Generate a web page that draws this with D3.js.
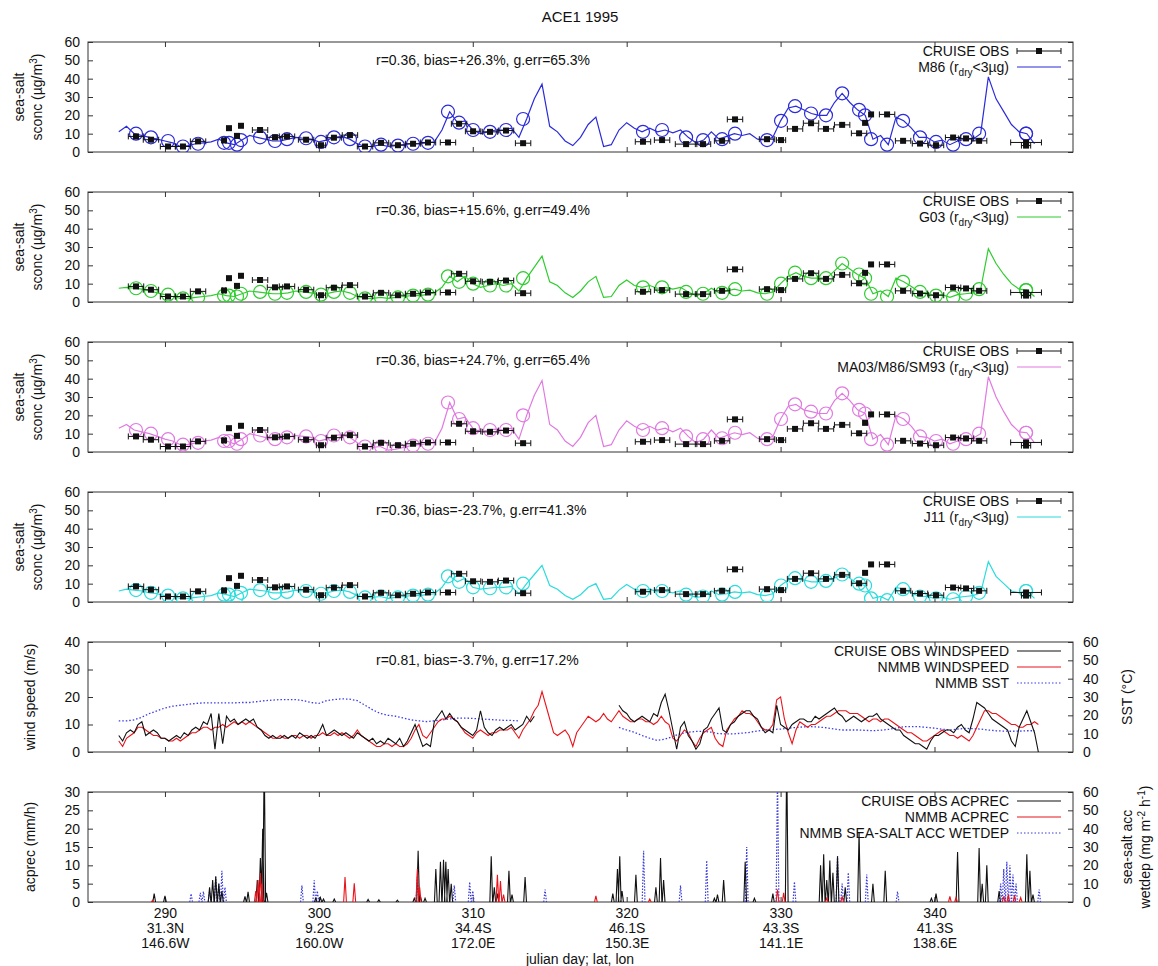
<!DOCTYPE html>
<html>
<head>
<meta charset="utf-8">
<title>ACE1 1995</title>
<script src="https://cdn.jsdelivr.net/npm/d3@7/dist/d3.min.js"></script>
<style>
  body { margin: 0; background: #fff; }
  svg text { font-family: "Liberation Sans", Arial, Helvetica, sans-serif; fill: #111; }
</style>
</head>
<body>
<svg id="chart" width="1158" height="966"></svg>
<script>
// ---------------- data ----------------
const dayDomain = [285, 349];
const dayTicks = [290, 300, 310, 320, 330, 340];
const tickLat = ["31.3N", "9.2S", "34.4S", "46.1S", "43.3S", "41.3S"];
const tickLon = ["146.6W", "160.0W", "172.0E", "150.3E", "141.1E", "138.6E"];

// cruise observations of sea-salt concentration (µg/m3), sampling mid-time and half duration (days)
const obsDay = [288.12,289.09,290.20,291.17,292.15,293.84,294.16,294.68,294.94,296.18,
  297.15,297.93,299.17,300.14,300.98,302.02,303.00,304.04,305.14,306.12,
  307.09,308.39,309.11,310.02,311.12,312.16,313.27,321.06,322.30,323.86,
  324.96,326.20,327.04,329.12,330.03,330.94,331.98,332.95,334.00,335.10,
  335.49,335.88,336.92,337.96,339.06,340.10,341.21,342.05,342.90,345.95,345.95];
const obsSconc = [8.5,6.7,3.0,3.0,5.8,6.3,13.0,8.8,14.3,12.0,
  8.0,8.5,6.7,3.7,7.8,9.2,3.0,5.0,3.7,4.5,
  5.2,5.2,15.4,11.3,11.0,11.7,4.8,5.6,6.5,4.3,
  4.3,6.1,17.8,7.0,6.5,12.6,15.7,12.6,14.8,10.2,
  15.9,20.5,20.5,6.1,4.6,3.7,7.9,7.4,6.1,5.2,3.5];
const obsHalf = [0.5,0.5,0.5,0.5,0.5,0.1,0,0,0,0.5,
  0.5,0.5,0.5,0.3,0.5,0.5,0.5,0.5,0.5,0.5,
  0.5,0.5,0.5,0.5,0.5,0.5,0.5,0.5,0.5,0.7,
  0.5,0.5,0.5,0.5,0.3,0.5,0.5,0.5,0.5,0.5,
  0,0,0.5,0.5,0.5,0.5,0.5,0.5,0.5,1.0,0.3];

// NMMB sea-salt surface concentration along the ship track, half-day samples from day 287.0
const modelStart = 287.0, modelStep = 0.5;
const sconcM86 = [11,14,10,9,8,7,6,5,3,3.5,
  4.5,5,5.5,7,5,4,6.5,9,8,7,
  6,6,7,8,7.5,7,5.5,6.5,8,8.5,
  7,4.5,3,3,4,3,3.5,4,4.5,4.5,
  5,5.5,12,22,16,17,12,10,11,12,
  12,13,8,18,29,37,14,11,6,3.5,
  8,15,19,3,4,12,16,13,11,13,
  11,12,10.5,12,8,5,6.5,11,7,8.5,
  10,9,10,7,6.5,8,17,24,25,23,
  21,20,20,27,32,27,23,20,7,9,
  4,19,17,13,8,8,5.5,6.5,4,6,
  7,7,10,41,29,22,15,11,10,4.5];
const sconcG03 = [7.5,8,7.5,7,6,5,4,3,2,2,
  2.5,3,3.5,4.5,3.5,3,4.5,6,5.5,5,
  4.5,4.5,5,6,5.5,5,4,4.5,5.5,6,
  5,3,2,2,2.5,2,2.5,3,3.5,3.5,
  4,5,8,14,11,14,10,8,9,10,
  9,10,6,13,19,25,11,9,5,2.5,
  6,11,14,2.5,3,9,12,9,8,9,
  7.5,8,7,8,5.5,3.5,4.5,7.5,5,6,
  7,6,6.5,5,4.5,5.5,10,14,16,14,
  13,13,13,17,21,18,15,13,4.5,6,
  3,13,11,8.5,5.5,5,3.5,4,2.5,4,
  4.5,5,7,29,21,15,10,7,6.5,3];
const sconcMA03 = [13,15,12,11,10,8.5,7,6,4,4,
  5,6,6.5,8,6,4.5,7,10,9,8,
  7,7,8,9,8.5,8,6,7,9,9.5,
  8,5,3,2.5,3,1,1.5,2.5,3.5,4,
  4.5,5,13,27,18,19,13,11,12,12.5,
  12,13,7,20,31,39,15,12,6,3,
  8,16,20,3,4,12,17,14,12,14,
  12,13,11,13,8.5,5,7,12,7.5,9,
  10.5,9.5,10.5,7.5,7,8.5,18,25,26,23,
  22,21,21,28,32,28,23,21,7,9.5,
  4,20,18,14,8.5,8,6,7,4.5,6,
  7,7.5,10,41,30,22,15,11,10.5,5];
const sconcJ11 = [6,7,6.5,6,5,4.5,3.5,3,2,2,
  2.5,3,3.5,5,4,3,5,7,6.5,6,
  5,5,5.5,6.5,6,5.5,4.5,5,6,6.5,
  5.5,3.5,2.5,2.5,3,2,2.5,3,3.5,3.5,
  4,4.5,8,14,11,13,8,7,7.5,8,
  8,8.5,4.5,10,15,20,9,7,3.5,1.5,
  4,8,10,1.5,2,6.5,9.5,7,6,7,
  5.5,6,5,6,4,2.5,3,6,4,4.5,
  5.5,5,5.5,4,3.5,4.5,9,12,13,12,
  11,11,11.5,13,15,13,10,9,2,3,
  1,8,7,5,3,3,2,2.5,1.5,2.5,
  3,3.5,5,22,14,10,6,5,6,2];

const statSconc = ["r=0.36, bias=+26.3%, g.err=65.3%", "r=0.36, bias=+15.6%, g.err=49.4%",
  "r=0.36, bias=+24.7%, g.err=65.4%", "r=0.36, bias=-23.7%, g.err=41.3%"];
const statWind = "r=0.81, bias=-3.7%, g.err=17.2%";

// wind speed (m/s), quarter-day samples from day 287.0; null where the ship record is missing
const windStart = 287.0, windStep = 0.25;
const windObs = [6,4,7,8, 7,10,11,6, 7,8,7,5, 5,4,5,6, 5,7,6,8, 9,8,11,10, 14,1,14,3,
  13,11,12,10, 11,12,11,12, 9,8,6,5, 6,5,5,6, 5,6,5,7, 6,5,6,5, 7,10,6,7,
  8,7,6,7, 6,5,7,6, 5,4,5,3, 4,3,5,4, 3,5,2,4, 7,10,6,2, 3,2,11,13,
  15,12,14,12, 11,9,8,7, 6,8,15,9, 7,6,8,9, 8,9,10,8, 9,10,13,11, 13,
  null,null,null,null,null,null,null,null,null,null,null,null,null,null,null,null,null,null,null,null,null,
  17,15, 14,12,11,12, 13,12,11,14, 13,18,21,15, 8,1,9,11, 6,4,1,3, 8,9,12,14,
  16,8,7,10, 11,13,14,15, 15,13,12,9, 7,8,7,17, 10,9,8,10, 11,12,12,11,
  11,13,12,13, 14,15,16,14, 13,11,12,13, 12,11,12,13, 13,14,12,11, 10,9,8,8,
  6,5,4,3, 3,2,1,4, 6,6,7,8, 8,7,9,10, 8,7,12,18, 17,16,14,12, 11,10,9,8,
  4,2,9,12, 15,11,7,0];
const windModel = [4,2,5,6, 7,9,9,8, 7,6,6,5, 5,4,4,5, 4,5,6,7, 7,8,9,9, 8,9,9,10,
  9,10,11,10, 11,10,11,10, 9,8,7,6, 5,5,6,5, 5,6,6,5, 6,6,5,6, 6,7,6,6,
  7,6,7,6, 5,6,8,6, 5,4,3,2, 2,3,3,2, 3,2,2,3, 5,8,10,6, 5,7,9,11,
  12,12,13,12, 11,9,7,6, 5,7,8,7, 6,7,7,8, 8,8,9,7, 5,8,10,12, 15,17,22,17,
  12,7,6,7, 8,6,2,7, 9,11,13,12, 11,12,14,12, 11,13,15,13, 12,11,11,12,
  12,11,11,10, 11,13,11,10, 5,4,6,8, 7,4,2,5, 7,8,9,5, 3,2,8,10,
  12,13,15,14, 14,13,11,9, 8,8,10,19, 20,12,7,3, 8,11,10,9, 10,10,11,12,
  13,13,14,15, 15,15,14,14, 14,13,12,11, 12,12,11,12, 12,11,10,9, 8,7,7,6,
  5,4,4,5, 6,7,8,7, 6,6,5,6, 5,4,6,9, 12,15,15,14, 14,13,12,11, 10,10,9,9,
  10,10,11,10];

// NMMB sea surface temperature (°C), half-day samples from day 287.0
const sstStart = 287.0, sstStep = 0.5;
const sstModel = [17,17,17.5,19,21,22.5,24,25,25.5,26,
  26.5,26.8,26.8,26.8,26.8,26.8,27,27,27.5,28,
  28.3,28.6,28.6,28.6,28,27,26.5,28,28.6,29,
  28.8,28,25.5,23,21,20,19.5,18.5,17.5,17,
  16.6,17,17.5,18,18.5,18.5,18.3,18,17.8,17.5,
  17.3,17.2,17,
  null,null,null,null,null,null,null,null,null,null,null,null,
  13.4,
  12,10.7,9,7.5,6.3,7,8.5,10,10.8,11.2,
  11.3,10.8,10,9.9,9.9,10.3,10.7,11.5,12,12.3,
  12.5,13,13.4,13.7,13.8,13.6,13.2,12.5,12,12,
  12,11.8,11.6,11.9,12.3,13,13.8,13.8,13.8,13.4,
  13,12.4,12,12.5,12.9,12.7,12.5,12,11.6,11.4,
  11.3,11.4,11.6,11.6];

// accumulated precipitation events [day, mm/h]
const rainObs = [[289.3,2.3],[290.0,1.7],[292.9,4],[293.1,6],[293.3,7],[293.5,5],[293.7,3],[295.2,1.5],[295.4,2.8],
  [296.0,6],[296.2,12],[296.35,20],[296.45,40],[296.6,2.5],[299.8,1],[300.1,1.2],[300.3,0.8],[301.0,0.8],
  [303.2,0.7],[303.9,0.6],[305.1,0.5],[306.2,1],[306.45,14],[306.6,1.5],[306.9,1],[307.6,9],[307.9,11],
  [308.1,11.5],[308.25,11],[308.4,9],[308.6,5],[311.2,12.5],[311.4,4],[311.6,2.3],[312.35,8.5],[312.55,2],
  [313.4,6.8],[319.1,2.3],[319.4,9],[319.55,12.5],[319.7,3],[320.6,7.4],[321.9,4],[322.2,12],[322.4,6],
  [325.7,1],[325.9,2],[326.3,6],[327.7,11],[328.3,1],[329.5,2.3],[330.4,40],[332.6,10],[332.8,13],
  [333.0,6],[333.2,11.3],[333.4,8],[333.7,12.5],[334.2,4],[335.1,19],[336.0,5],[336.8,8.5],[339.8,1],
  [340.1,2.3],[341.5,13.6],[342.9,14.7],[343.1,5],[343.4,10],[344.2,3],[346.0,13],[346.2,8.5],[346.4,2]];
const rainModel = [[289.2,0.5],[295.9,3],[296.05,6],[296.2,7.9],[296.3,5],[301.7,6.8],[302.3,5.1],[306.4,9],
  [306.55,4],[311.6,7.4],[311.8,5.7],[312.0,2],[318.0,1.7],[321.5,0.8],[329.8,3.4],[330.2,2.5],[333.0,1],
  [334.0,1.5],[341.0,1.5],[341.4,1.2],[344.5,1.5],[344.8,2],[345.2,1.8],[345.6,1.2]];
// sea-salt accumulated wet deposition events [day, mg m-2 h-1]
const wetdepModel = [[291.7,4.5],[292.3,5],[292.5,5.7],[292.9,5.7],[293.3,13.6],[293.5,10],[293.7,17],[293.9,8],
  [298.9,9],[299.7,11.8],[299.9,6],[306.4,13.6],[308.8,9],[309.8,10.9],[310.0,6],[314.7,6.8],[321.1,28],
  [323.5,9],[325.2,22.6],[327.8,30],[329.8,70],[330.9,11],[333.7,25],[334.0,10],[334.4,16],[335.6,15],
  [337.6,5.7],[344.3,10],[344.5,18],[344.7,22],[344.9,20],[345.1,15],[345.3,10],[346.8,6.8]];

// ---------------- layout ----------------
const FONT = '"Liberation Sans", Arial, Helvetica, sans-serif';
const FS = 14;
const L = 88, R = 1073, H = 110;
const tops = [42, 192, 342, 492, 642, 792];
const x = d3.scaleLinear().domain(dayDomain).range([L, R]);
const svg = d3.select("#chart");
const defs = svg.append("defs");

const C = {
  frame: "#333", obs: "#111",
  m86: "#2b2bd9", g03: "#2ecc2e", ma03: "#e07ae0", j11: "#2adcdc",
  red: "#e8141c", sst: "#3a3aee", dep: "#3c3cdc"
};

svg.append("text").attr("x", 580).attr("y", 22).attr("text-anchor", "middle")
  .attr("font-size", 15).text("ACE1 1995");

function styleAxis(sel) {
  sel.attr("font-family", FONT).attr("font-size", FS);
  sel.select(".domain").remove();
  sel.selectAll(".tick line").attr("stroke", C.frame);
  sel.selectAll(".tick text").attr("fill", "#111");
}

function frame(i, yLeft, leftTicks, yRight, rightTicks, rightLabeled) {
  const top = tops[i];
  const g = svg.append("g");
  defs.append("clipPath").attr("id", "clip" + i)
    .append("rect").attr("x", L).attr("y", top).attr("width", R - L).attr("height", H);
  g.append("g").attr("transform", `translate(${L},0)`)
    .call(d3.axisLeft(yLeft).tickValues(leftTicks).tickSizeInner(-5).tickSizeOuter(0).tickPadding(8))
    .call(styleAxis);
  const right = g.append("g").attr("transform", `translate(${R},0)`)
    .call(d3.axisRight(yRight).tickValues(rightTicks).tickSizeInner(-5).tickSizeOuter(0).tickPadding(10)
      .tickFormat(rightLabeled ? d3.format("d") : ""))
    .call(styleAxis);
  if (!rightLabeled) right.selectAll(".tick text").remove();
  g.append("g").attr("transform", `translate(0,${top})`)
    .call(d3.axisTop(x).tickValues(dayTicks).tickSizeInner(-5).tickSizeOuter(0).tickFormat(""))
    .call(styleAxis)
    .selectAll(".tick text").remove();
  const bottom = g.append("g").attr("transform", `translate(0,${top + H})`)
    .call(d3.axisBottom(x).tickValues(dayTicks).tickSizeInner(-5).tickSizeOuter(0).tickFormat(""))
    .call(styleAxis);
  bottom.selectAll(".tick text").remove();
  g.append("rect").attr("x", L).attr("y", top).attr("width", R - L).attr("height", H)
    .attr("fill", "none").attr("stroke", C.frame).attr("stroke-width", 1);
  const plot = svg.append("g").attr("clip-path", `url(#clip${i})`);
  return { g, plot, bottom, top };
}

// text with optional sub/superscript pieces; the piece after a shifted one returns to the baseline
function richText(parent, parts) {
  let pending = 0;
  parts.forEach(p => {
    const shift = p.sub ? 4 : p.sup ? -5 : 0;
    const t = parent.append("tspan").text(p.t);
    const dy = shift - pending;
    if (dy) t.attr("dy", dy);
    if (shift) t.attr("font-size", 10);
    pending = shift;
  });
  return parent;
}

function yLabel(xPos, mid, parts) {
  const t = svg.append("text").attr("transform", `translate(${xPos},${mid}) rotate(-90)`)
    .attr("text-anchor", "middle").attr("dy", "0.35em").attr("font-size", FS);
  richText(t, parts);
}

function legend(top, rows) {
  rows.forEach((r, k) => {
    const yy = top + 14 + k * 16;
    const t = svg.append("text").attr("x", 1009).attr("y", yy).attr("text-anchor", "end").attr("font-size", FS);
    richText(t, r.parts);
    const ly = yy - 5, x0 = 1017, x1 = 1061;
    if (r.kind === "obs") {
      svg.append("line").attr("x1", x0).attr("x2", x1).attr("y1", ly).attr("y2", ly).attr("stroke", C.obs);
      [x0, x1].forEach(xx => svg.append("line").attr("x1", xx).attr("x2", xx).attr("y1", ly - 3).attr("y2", ly + 3).attr("stroke", C.obs));
      svg.append("rect").attr("x", (x0 + x1) / 2 - 3).attr("y", ly - 3).attr("width", 6).attr("height", 6).attr("fill", C.obs);
    } else {
      svg.append("line").attr("x1", x0).attr("x2", x1).attr("y1", ly).attr("y2", ly)
        .attr("stroke", r.color).attr("stroke-width", 1.2).attr("stroke-dasharray", r.dash || null);
    }
  });
}

function stat(top, txt) {
  svg.append("text").attr("x", 376).attr("y", top + 23).attr("font-size", FS).text(txt);
}

// ---------------- sea-salt panels ----------------
const sconcPanels = [
  { series: sconcM86, color: C.m86, name: "M86" },
  { series: sconcG03, color: C.g03, name: "G03" },
  { series: sconcMA03, color: C.ma03, name: "MA03/M86/SM93" },
  { series: sconcJ11, color: C.j11, name: "J11" }
];

sconcPanels.forEach((p, i) => {
  const top = tops[i];
  const y = d3.scaleLinear().domain([0, 60]).range([top + H, top]);
  const f = frame(i, y, d3.range(0, 61, 10), y, d3.range(0, 61, 10), false);
  const line = d3.line().x((d, k) => x(modelStart + k * modelStep)).y(d => y(d));
  f.plot.append("path").datum(p.series).attr("d", line)
    .attr("fill", "none").attr("stroke", p.color).attr("stroke-width", 1.2);
  // model sampled at the observation times
  f.plot.selectAll("circle.m").data(obsDay).join("circle")
    .attr("cx", d => x(d))
    .attr("cy", d => y(p.series[Math.round((d - modelStart) / modelStep)]))
    .attr("r", 6.5).attr("fill", "none").attr("stroke", p.color).attr("stroke-width", 1.2);
  // observations with sampling-period bars
  const og = f.plot.append("g");
  obsDay.forEach((d, k) => {
    const yy = y(obsSconc[k]);
    if (obsHalf[k] > 0) {
      const xa = x(d - obsHalf[k]), xb = x(d + obsHalf[k]);
      og.append("line").attr("x1", xa).attr("x2", xb).attr("y1", yy).attr("y2", yy).attr("stroke", C.obs);
      [xa, xb].forEach(xx => og.append("line").attr("x1", xx).attr("x2", xx).attr("y1", yy - 3).attr("y2", yy + 3).attr("stroke", C.obs));
    }
    og.append("rect").attr("x", x(d) - 3).attr("y", yy - 3).attr("width", 6).attr("height", 6).attr("fill", C.obs);
  });
  stat(top, statSconc[i]);
  legend(top, [
    { kind: "obs", parts: [{ t: "CRUISE OBS" }] },
    { kind: "line", color: p.color, parts: [{ t: p.name + " (r" }, { t: "dry", sub: true }, { t: "<3µg)" }] }
  ]);
  yLabel(19, top + H / 2, [{ t: "sea-salt" }]);
  yLabel(37, top + H / 2, [{ t: "sconc (µg/m" }, { t: "3", sup: true }, { t: ")" }]);
});

// ---------------- wind panel ----------------
{
  const i = 4, top = tops[i];
  const yW = d3.scaleLinear().domain([0, 40]).range([top + H, top]);
  const yS = d3.scaleLinear().domain([0, 60]).range([top + H, top]);
  const f = frame(i, yW, d3.range(0, 41, 10), yS, d3.range(0, 61, 10), true);
  const sstLine = d3.line().defined(d => d != null)
    .x((d, k) => x(sstStart + k * sstStep)).y(d => yS(d));
  f.plot.append("path").datum(sstModel).attr("d", sstLine).attr("fill", "none")
    .attr("stroke", C.sst).attr("stroke-width", 1.3).attr("stroke-dasharray", "1.5,2");
  const wLine = d3.line().defined(d => d != null)
    .x((d, k) => x(windStart + k * windStep)).y(d => yW(d));
  f.plot.append("path").datum(windModel).attr("d", wLine).attr("fill", "none")
    .attr("stroke", C.red).attr("stroke-width", 1.1);
  f.plot.append("path").datum(windObs).attr("d", wLine).attr("fill", "none")
    .attr("stroke", C.obs).attr("stroke-width", 1.1);
  stat(top, statWind);
  legend(top, [
    { kind: "line", color: "#111", parts: [{ t: "CRUISE OBS WINDSPEED" }] },
    { kind: "line", color: C.red, parts: [{ t: "NMMB WINDSPEED" }] },
    { kind: "line", color: C.sst, dash: "1.5,2", parts: [{ t: "NMMB SST" }] }
  ]);
  yLabel(30, top + H / 2, [{ t: "wind speed (m/s)" }]);
  yLabel(1127, top + H / 2, [{ t: "SST (°C)" }]);
}

// ---------------- precipitation panel ----------------
{
  const i = 5, top = tops[i];
  const yP = d3.scaleLinear().domain([0, 30]).range([top + H, top]);
  const yD = d3.scaleLinear().domain([0, 60]).range([top + H, top]);
  const f = frame(i, yP, d3.range(0, 31, 5), yD, d3.range(0, 61, 10), true);
  const w = 0.09;
  function spikes(events, ys) {
    return events.map(([d, v]) => `M${x(d - w)},${ys(0)}L${x(d)},${ys(v)}L${x(d + w)},${ys(0)}`).join("");
  }
  f.plot.append("path").attr("d", spikes(wetdepModel, yD)).attr("fill", "none")
    .attr("stroke", C.dep).attr("stroke-width", 1.2).attr("stroke-dasharray", "1.5,1.5");
  f.plot.append("path").attr("d", spikes(rainObs, yP)).attr("fill", "none")
    .attr("stroke", C.obs).attr("stroke-width", 1.1);
  f.plot.append("path").attr("d", spikes(rainModel, yP)).attr("fill", "none")
    .attr("stroke", C.red).attr("stroke-width", 1.1);
  legend(top, [
    { kind: "line", color: "#111", parts: [{ t: "CRUISE OBS ACPREC" }] },
    { kind: "line", color: C.red, parts: [{ t: "NMMB ACPREC" }] },
    { kind: "line", color: C.dep, dash: "1.5,2", parts: [{ t: "NMMB SEA-SALT ACC WETDEP" }] }
  ]);
  // day / latitude / longitude labels
  f.bottom.selectAll(".tick").each(function (d, k) {
    const t = d3.select(this).append("text").attr("text-anchor", "middle").attr("font-size", FS).attr("fill", "#111");
    [String(d), tickLat[k], tickLon[k]].forEach((s, r) =>
      t.append("tspan").attr("x", 0).attr("y", 16 + r * 15).text(s));
  });
  svg.append("text").attr("x", 580).attr("y", 964).attr("text-anchor", "middle").attr("font-size", FS)
    .text("julian day; lat, lon");
  yLabel(30, top + H / 2, [{ t: "acprec (mm/h)" }]);
  yLabel(1127, top + H / 2, [{ t: "sea-salt acc" }]);
  yLabel(1145, top + H / 2, [{ t: "wetdep (mg m" }, { t: "-2", sup: true }, { t: " h" }, { t: "-1", sup: true }, { t: ")" }]);
}
</script>
</body>
</html>
